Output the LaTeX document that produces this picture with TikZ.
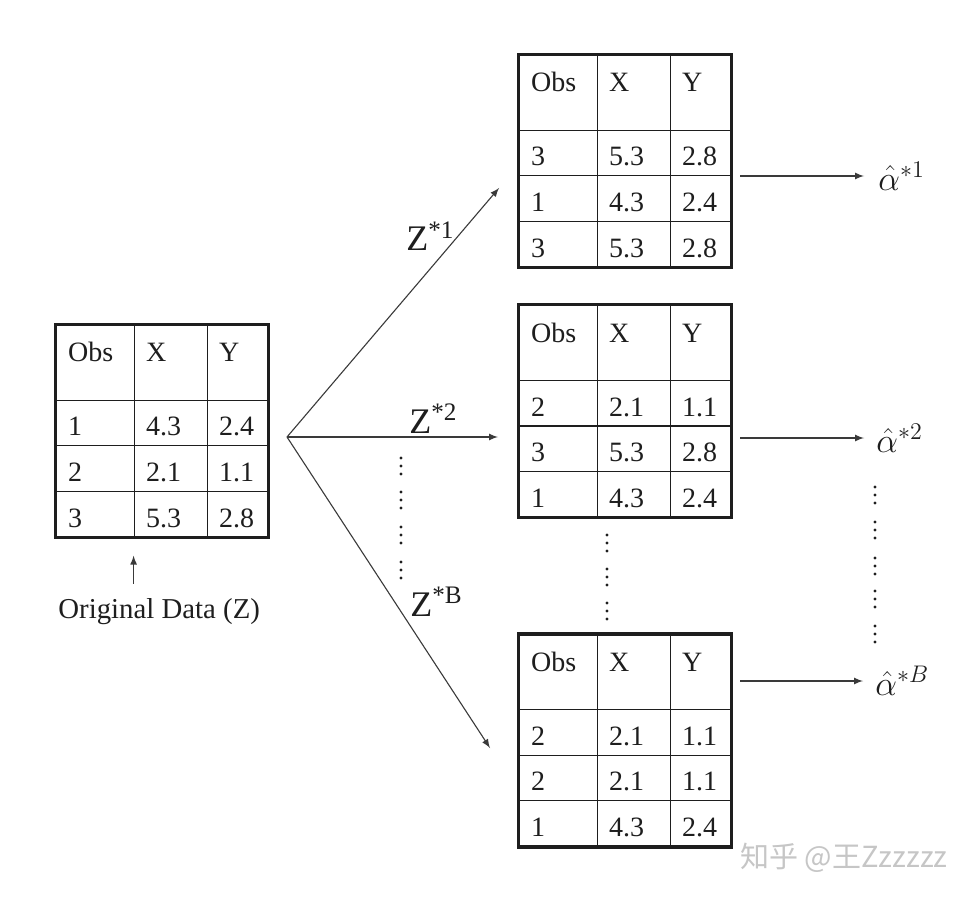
\documentclass[tikz,border=0pt]{standalone}
\usepackage{fontspec}
\setmainfont{Liberation Serif}
\newfontfamily\cjkfont{Noto Sans CJK SC}
\usetikzlibrary{arrows,matrix,positioning}

\definecolor{tabink}{HTML}{1E1E1E}
\definecolor{lineink}{HTML}{3A3A3A}

\tikzset{
  datatab/.style={matrix of nodes, draw=tabink, line width=1.6pt, inner sep=0pt,
    row sep=-0.6pt, column sep=-0.6pt,
    nodes={draw=tabink, line width=0.6pt, inner xsep=6pt, inner ysep=0pt, align=left,
      text height=17.8pt, text depth=5pt, text=tabink, font=\fontsize{14}{16}\selectfont},
    row 1/.style={nodes={text height=18.3pt, text depth=19.2pt}},
    column 1/.style={nodes={text width=27pt}},
    column 2/.style={nodes={text width=24.5pt}},
    column 3/.style={nodes={text width=18.5pt}}},
  zlab/.style={font=\fontsize{18}{21}\selectfont, text=tabink, inner sep=0pt, anchor=base west},
  alab/.style={font=\fontsize{18}{21}\selectfont, text=tabink, inner sep=0pt, anchor=west},
  link/.style={->, draw=lineink, line width=0.55pt},
  >=latex
}

\begin{document}
\begin{tikzpicture}[x=0.5pt, y=-0.5pt]
\useasboundingbox[fill=white] (0,0) rectangle (972,898);

% original sample
\matrix[datatab, anchor=north west] (orig) at (54,323) {
  Obs & X & Y \\
  1 & 4.3 & 2.4 \\
  2 & 2.1 & 1.1 \\
  3 & 5.3 & 2.8 \\
};
\node[anchor=base west, inner sep=0pt, text=tabink, font=\fontsize{14.4}{17}\selectfont] (origlabel) at (58,618) {Original Data (Z)};
\draw[link] ([yshift=7pt]origlabel.north -| orig-4-2.west) -- ([yshift=-9pt]orig-4-2.south west);

% bootstrap samples
\matrix[datatab, anchor=north west] (s1) at (517,53) {
  Obs & X & Y \\
  3 & 5.3 & 2.8 \\
  1 & 4.3 & 2.4 \\
  3 & 5.3 & 2.8 \\
};
\matrix[datatab, below=17pt of s1] (s2) {
  Obs & X & Y \\
  2 & 2.1 & 1.1 \\
  3 & 5.3 & 2.8 \\
  1 & 4.3 & 2.4 \\
};
\matrix[datatab, below=56.5pt of s2] (sB) {
  Obs & X & Y \\
  2 & 2.1 & 1.1 \\
  2 & 2.1 & 1.1 \\
  1 & 4.3 & 2.4 \\
};

% resampling arrows
\coordinate (split) at (287,437);
\coordinate (e1) at (499,188);
\coordinate (e2) at (498,437);
\coordinate (eB) at (490,748);
\draw[link] (split) -- (e1);
\draw[link] (split) -- (e2);
\draw[link] (split) -- (eB);
\node[zlab] (z1) at (406,251) {Z\textsuperscript{*1}};
\node[zlab] (z2) at (409,433) {Z\textsuperscript{*2}};
\node[zlab] (zB) at (410,616) {Z\textsuperscript{*B}};

% estimates
\node[alab] (a1) at (878,176) {$\hat{\alpha}^{*1}$};
\node[alab] (a2) at (876,438) {$\hat{\alpha}^{*2}$};
\node[alab] (aB) at (875,681) {$\hat{\alpha}^{*B}$};
\draw[link] ([xshift=3.5pt]s1.east |- a1.west) -- ([xshift=-7pt]a1.west);
\draw[link] ([xshift=3.5pt]s2.east |- a2.west) -- ([xshift=-6pt]a2.west);
\draw[link] ([xshift=3.5pt]sB.east |- aB.west) -- ([xshift=-6pt]aB.west);

% dots
\foreach \y in {466,500,535,570}
  \foreach \d in {-8,0,8}
    \fill[tabink] (401,\y+\d) circle (0.8pt);
\foreach \y in {543,577,611}
  \foreach \d in {-8,0,8}
    \fill[tabink] (607,\y+\d) circle (0.8pt);
\foreach \y in {495,530,566,599,634}
  \foreach \d in {-8,0,8}
    \fill[tabink] (875,\y+\d) circle (0.8pt);

% watermark
\node[anchor=west, inner sep=0pt, text=gray!45, font=\cjkfont\fontsize{14.5}{16}\selectfont] (mark) at (740,858) {知乎 @王Zzzzzz};
\end{tikzpicture}
\end{document}
